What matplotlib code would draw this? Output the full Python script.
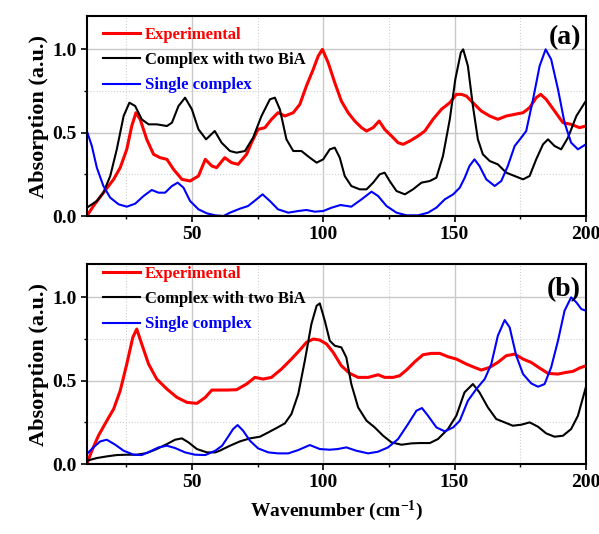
import matplotlib
matplotlib.use("Agg")
import matplotlib.pyplot as plt
from matplotlib.ticker import MultipleLocator

# ---------------- data ----------------
# panel (a)
a_exp_x = [10, 12.5, 16.3, 20.2, 22.7, 25.2, 27.1, 28.7, 30.3, 32.8, 35.4, 37.9, 40.5, 43, 46.2, 49.3,
           52.5, 55.1, 57.6, 59.4, 62.5, 65.1, 67.6, 70.8, 72.7, 75.2, 77.8, 80.3, 82.8, 85.4, 88.6,
           91.1, 93.6, 96.2, 98.1, 99.7, 101.9, 104.4, 106.9, 109.5, 112, 114.6, 116.5, 119, 121.3,
           123.4, 126, 128.5, 130.4, 133, 136.1, 138.7, 141.8, 145, 148.2, 150.7, 152.6, 154.5, 157,
           160.2, 163.4, 166.5, 169.7, 172.9, 176.1, 178.6, 181.1, 182.8, 184.9, 188.1, 191.3, 194.4,
           197.6, 200]
a_exp_y = [0.0, 0.06, 0.14, 0.22, 0.29, 0.40, 0.54, 0.62, 0.58, 0.46, 0.37, 0.35, 0.34, 0.28, 0.22, 0.21,
           0.24, 0.34, 0.30, 0.29, 0.35, 0.32, 0.31, 0.37, 0.44, 0.52, 0.53, 0.58, 0.62, 0.60, 0.62,
           0.67, 0.78, 0.88, 0.96, 1.0, 0.92, 0.80, 0.69, 0.62, 0.57, 0.53, 0.51, 0.53, 0.57,
           0.52, 0.48, 0.44, 0.43, 0.45, 0.48, 0.51, 0.58, 0.64, 0.68, 0.73, 0.73, 0.72, 0.68,
           0.63, 0.60, 0.58, 0.60, 0.61, 0.62, 0.65, 0.71, 0.73, 0.70, 0.63, 0.56, 0.55,
           0.53, 0.54]

a_two_x = [10, 13.8, 16.3, 18.9, 21.4, 24, 26.2, 28.4, 30.9, 33.5, 36.6, 40.5, 42.4, 44.9, 47.4, 50,
           52.5, 55.4, 58.7, 61.3, 64.5, 67, 70.2, 73.3, 76.5, 79.7, 81.6, 83.5, 86, 88.6, 91.7, 94.9,
           97.5, 100, 102.5, 104.4, 106.3, 108.2, 110.7, 113.9, 116.5, 119, 121.5, 123.4, 125.3, 127.9,
           131.1, 134.2, 137.4, 140.6, 143.1, 145.6, 148.2, 150.3, 152.4, 153.3, 155.1, 157, 158.9,
           160.8, 163.4, 166.5, 169.7, 172.9, 176.1, 178.6, 181.1, 183.7, 185.6, 188.1, 190.6, 193.2,
           196.4, 200]
a_two_y = [0.05, 0.09, 0.14, 0.24, 0.40, 0.60, 0.68, 0.66, 0.58, 0.55, 0.55, 0.54, 0.56, 0.66, 0.71, 0.64,
           0.52, 0.46, 0.51, 0.44, 0.39, 0.38, 0.39, 0.47, 0.60, 0.70, 0.71, 0.64, 0.46, 0.39, 0.39, 0.35,
           0.32, 0.34, 0.40, 0.41, 0.35, 0.24, 0.18, 0.16, 0.16, 0.20, 0.25, 0.26, 0.21, 0.15,
           0.13, 0.16, 0.20, 0.21, 0.23, 0.36, 0.58, 0.82, 0.98, 1.0, 0.90, 0.66, 0.46,
           0.37, 0.33, 0.31, 0.26, 0.24, 0.22, 0.24, 0.34, 0.43, 0.46, 0.42, 0.40, 0.47,
           0.60, 0.69]

a_single_x = [10, 11.9, 13.8, 16.3, 18.9, 22.1, 25.2, 28.4, 31.6, 34.7, 37.3, 39.8, 42.4, 44.6, 46.8,
              49.3, 52.5, 55.7, 58.9, 62, 64.5, 68.3, 71.4, 74.6, 76.9, 79.7, 82.8, 86.7, 90.5, 93.6,
              96.8, 100, 103.2, 106.6, 110.7, 114.6, 118.4, 120.9, 124.1, 127.9, 131.7, 136.1, 139.9,
              143.1, 146.3, 149.5, 152, 153.9, 155.7, 157.6, 159.5, 162.1, 165.3, 167.8, 170.3, 172.9,
              175.4, 177.3, 179.9, 182.4, 184.7, 186.8, 189.4, 191.9, 194.4, 197, 200]
a_single_y = [0.51, 0.42, 0.29, 0.18, 0.11, 0.07, 0.056, 0.074, 0.12, 0.156, 0.14, 0.14, 0.18, 0.20, 0.17,
              0.09, 0.04, 0.016, 0.004, 0.0, 0.02, 0.044, 0.06, 0.10, 0.13, 0.09, 0.04, 0.02, 0.03, 0.036,
              0.026, 0.03, 0.05, 0.066, 0.056, 0.10, 0.146, 0.12, 0.06, 0.02, 0.004, 0.004, 0.02,
              0.05, 0.10, 0.13, 0.17, 0.23, 0.30, 0.34, 0.30, 0.22, 0.18, 0.21, 0.30, 0.42,
              0.47, 0.51, 0.70, 0.90, 1.0, 0.94, 0.76, 0.56, 0.44, 0.40, 0.43]

# panel (b)
b_exp_x = [10, 11.9, 14.4, 17.6, 20.2, 22.7, 25.2, 27.5, 29, 30.9, 33.5, 36.6, 40.5, 44.3, 48.1, 51.9,
           55.1, 57.6, 59.4, 63.2, 67, 70.8, 74, 77.1, 80.3, 84.1, 87.9, 91.1, 93.6, 96.2, 98.7, 101.3,
           103.8, 106.9, 110.1, 113.3, 117.1, 120.9, 123.4, 126.6, 129.1, 131.7, 134.9, 138, 141.2,
           144.4, 147.5, 150.7, 154.5, 157.6, 160.2, 163.4, 166.5, 169.7, 172.9, 176.1, 179.2, 182.4,
           185.6, 189.4, 192.5, 195.1, 197.6, 200]
b_exp_y = [0.0, 0.08, 0.17, 0.26, 0.33, 0.44, 0.60, 0.76, 0.81, 0.72, 0.60, 0.51, 0.45, 0.40, 0.37, 0.364,
           0.40, 0.444, 0.444, 0.444, 0.446, 0.48, 0.52, 0.51, 0.52, 0.57, 0.63, 0.684, 0.73, 0.75, 0.744,
           0.72, 0.67, 0.59, 0.544, 0.52, 0.52, 0.536, 0.52, 0.52, 0.53, 0.564, 0.614, 0.656, 0.664,
           0.664, 0.644, 0.63, 0.60, 0.58, 0.564, 0.58, 0.61, 0.65, 0.66, 0.63, 0.61, 0.576,
           0.544, 0.54, 0.55, 0.556, 0.576, 0.59]

b_two_x = [10, 13.8, 17.6, 21.4, 25.2, 29, 32.8, 36.6, 40.5, 43.6, 46.2, 48.7, 51.9, 55.7, 58.9, 60.6,
           64.5, 68.3, 72.1, 75.9, 79.1, 82.2, 85.4, 87.9, 90.5, 93, 95.5, 97.5, 98.7, 100.6, 102.5,
           104.4, 106.9, 108.8, 110.7, 113.3, 116.5, 119.6, 122.8, 126, 129.8, 133.6, 136.8, 140.6,
           143.7, 147.5, 150.7, 153.8, 157, 159.5, 162.7, 165.9, 169.1, 172.2, 175.4, 178.6, 181.8,
           184.9, 188.1, 191.3, 194.4, 197, 200]
b_two_y = [0.02, 0.036, 0.046, 0.054, 0.056, 0.056, 0.066, 0.09, 0.12, 0.146, 0.154, 0.13, 0.09, 0.07, 0.07,
           0.08, 0.11, 0.136, 0.154, 0.164, 0.19, 0.216, 0.244, 0.30, 0.42, 0.62, 0.84, 0.95, 0.964, 0.86,
           0.74, 0.71, 0.70, 0.64, 0.48, 0.34, 0.26, 0.22, 0.17, 0.13, 0.116, 0.124, 0.126, 0.126,
           0.15, 0.21, 0.29, 0.43, 0.48, 0.43, 0.34, 0.27, 0.25, 0.23, 0.236, 0.25, 0.224,
           0.184, 0.164, 0.17, 0.21, 0.29, 0.46]

b_single_x = [10, 12.5, 15.1, 17.6, 20.8, 24, 27.8, 30.9, 34.1, 37.3, 40.5, 43.6, 47.4, 51.2, 55.1, 58.9,
              61.5, 63.2, 65.7, 67.4, 69.5, 72.1, 75.2, 79.1, 82.8, 86.7, 90.5, 94.9, 98.7, 102.5,
              105.5, 108.8, 112.6, 117.1, 120.9, 124.7, 128.5, 132.3, 135.5, 137.6, 139.9, 143.1, 146.3,
              149.5, 152, 155.1, 158.3, 161.5, 164, 166.5, 169.1, 171, 173.5, 176.1, 179.2, 181.8,
              184.3, 186.8, 189.4, 191.9, 194.4, 196.4, 198.3, 200]
b_single_y = [0.06, 0.10, 0.136, 0.146, 0.116, 0.08, 0.056, 0.054, 0.076, 0.10, 0.11, 0.096, 0.07, 0.056,
              0.054, 0.08, 0.11, 0.15, 0.21, 0.234, 0.20, 0.14, 0.094, 0.07, 0.064, 0.064, 0.084, 0.114,
              0.09, 0.086, 0.09, 0.10, 0.08, 0.064, 0.074, 0.10, 0.15, 0.24, 0.32, 0.336, 0.29, 0.22,
              0.196, 0.22, 0.26, 0.38, 0.45, 0.51, 0.60, 0.77, 0.864, 0.82, 0.65, 0.54, 0.484, 0.464,
              0.48, 0.58, 0.74, 0.92, 1.0, 0.97, 0.93, 0.92]

labels = ["Experimental", "Complex with two BiA", "Single complex"]
colors = ["#ff0000", "#000000", "#0000ff"]
panel_tags = ["(a)", "(b)"]
x_ticks = [50, 100, 150, 200]
y_ticks = [0.0, 0.5, 1.0]

# ---------------- figure ----------------
plt.rcParams['font.family'] = ['Liberation Serif', 'DejaVu Serif']
plt.rcParams['font.weight'] = 'bold'
plt.rcParams['mathtext.fontset'] = 'custom'
plt.rcParams['mathtext.rm'] = 'Liberation Serif:bold'
plt.rcParams['mathtext.bf'] = 'Liberation Serif:bold'
plt.rcParams['mathtext.default'] = 'bf'

fig = plt.figure(figsize=(5.99, 5.34), dpi=100)
ax_a = fig.add_axes([0.145, 0.5955, 0.833, 0.3745])
ax_b = fig.add_axes([0.145, 0.131, 0.833, 0.3745])

panels = [
    (ax_a, [(a_exp_x, a_exp_y), (a_two_x, a_two_y), (a_single_x, a_single_y)], 0.995, 0.89),
    (ax_b, [(b_exp_x, b_exp_y), (b_two_x, b_two_y), (b_single_x, b_single_y)], 1.04, 0.87),
]

for (ax, series, leg_y, tag_y), tag in zip(panels, panel_tags):
    widths = [2.2, 1.5, 1.5]
    for (xs, ys), lab, c, w in zip(series, labels, colors, widths):
        ax.plot(xs, ys, color=c, lw=w, label=lab, solid_joinstyle='round')
    ax.set_xlim(10, 200)
    ax.set_ylim(0, 1.2)
    ax.set_xticks(x_ticks)
    ax.set_yticks(y_ticks)
    ax.set_yticklabels([f"{v:.1f}" for v in y_ticks])
    ax.set_xticklabels([str(v) for v in x_ticks])
    ax.xaxis.set_minor_locator(MultipleLocator(25))
    ax.yaxis.set_minor_locator(MultipleLocator(0.25))
    ax.grid(True, which='major', color='#c8c8c8', lw=1.0, ls='-')
    ax.grid(True, which='minor', color='#d0d0d0', lw=0.8, ls=':')
    ax.set_axisbelow(True)
    ax.tick_params(which='major', direction='out', length=4, width=1.2, labelsize=14)
    ax.tick_params(which='minor', direction='out', length=2.5, width=1.0)
    for lbl in ax.get_xticklabels() + ax.get_yticklabels():
        lbl.set_fontweight('bold')
    for sp in ax.spines.values():
        sp.set_linewidth(1.5)
    ax.set_ylabel("Absorption (a.u.)", fontsize=16, fontweight='bold', labelpad=2)
    ax.legend(loc='upper left', bbox_to_anchor=(0.012, leg_y), frameon=False,
              handlelength=2.2, handletextpad=0.3, labelspacing=0.55,
              prop={'family': 'Liberation Serif', 'weight': 'bold', 'size': 12},
              labelcolor='linecolor', borderaxespad=0.2)
    ax.text(0.99, tag_y, tag, transform=ax.transAxes, ha='right', va='center',
            fontsize=20, fontweight='bold')

ax_b.set_xlabel("Wavenumber (cm$^{-1}$)", fontsize=14, fontweight='bold', labelpad=5)

fig.savefig("out.png", dpi=100)
